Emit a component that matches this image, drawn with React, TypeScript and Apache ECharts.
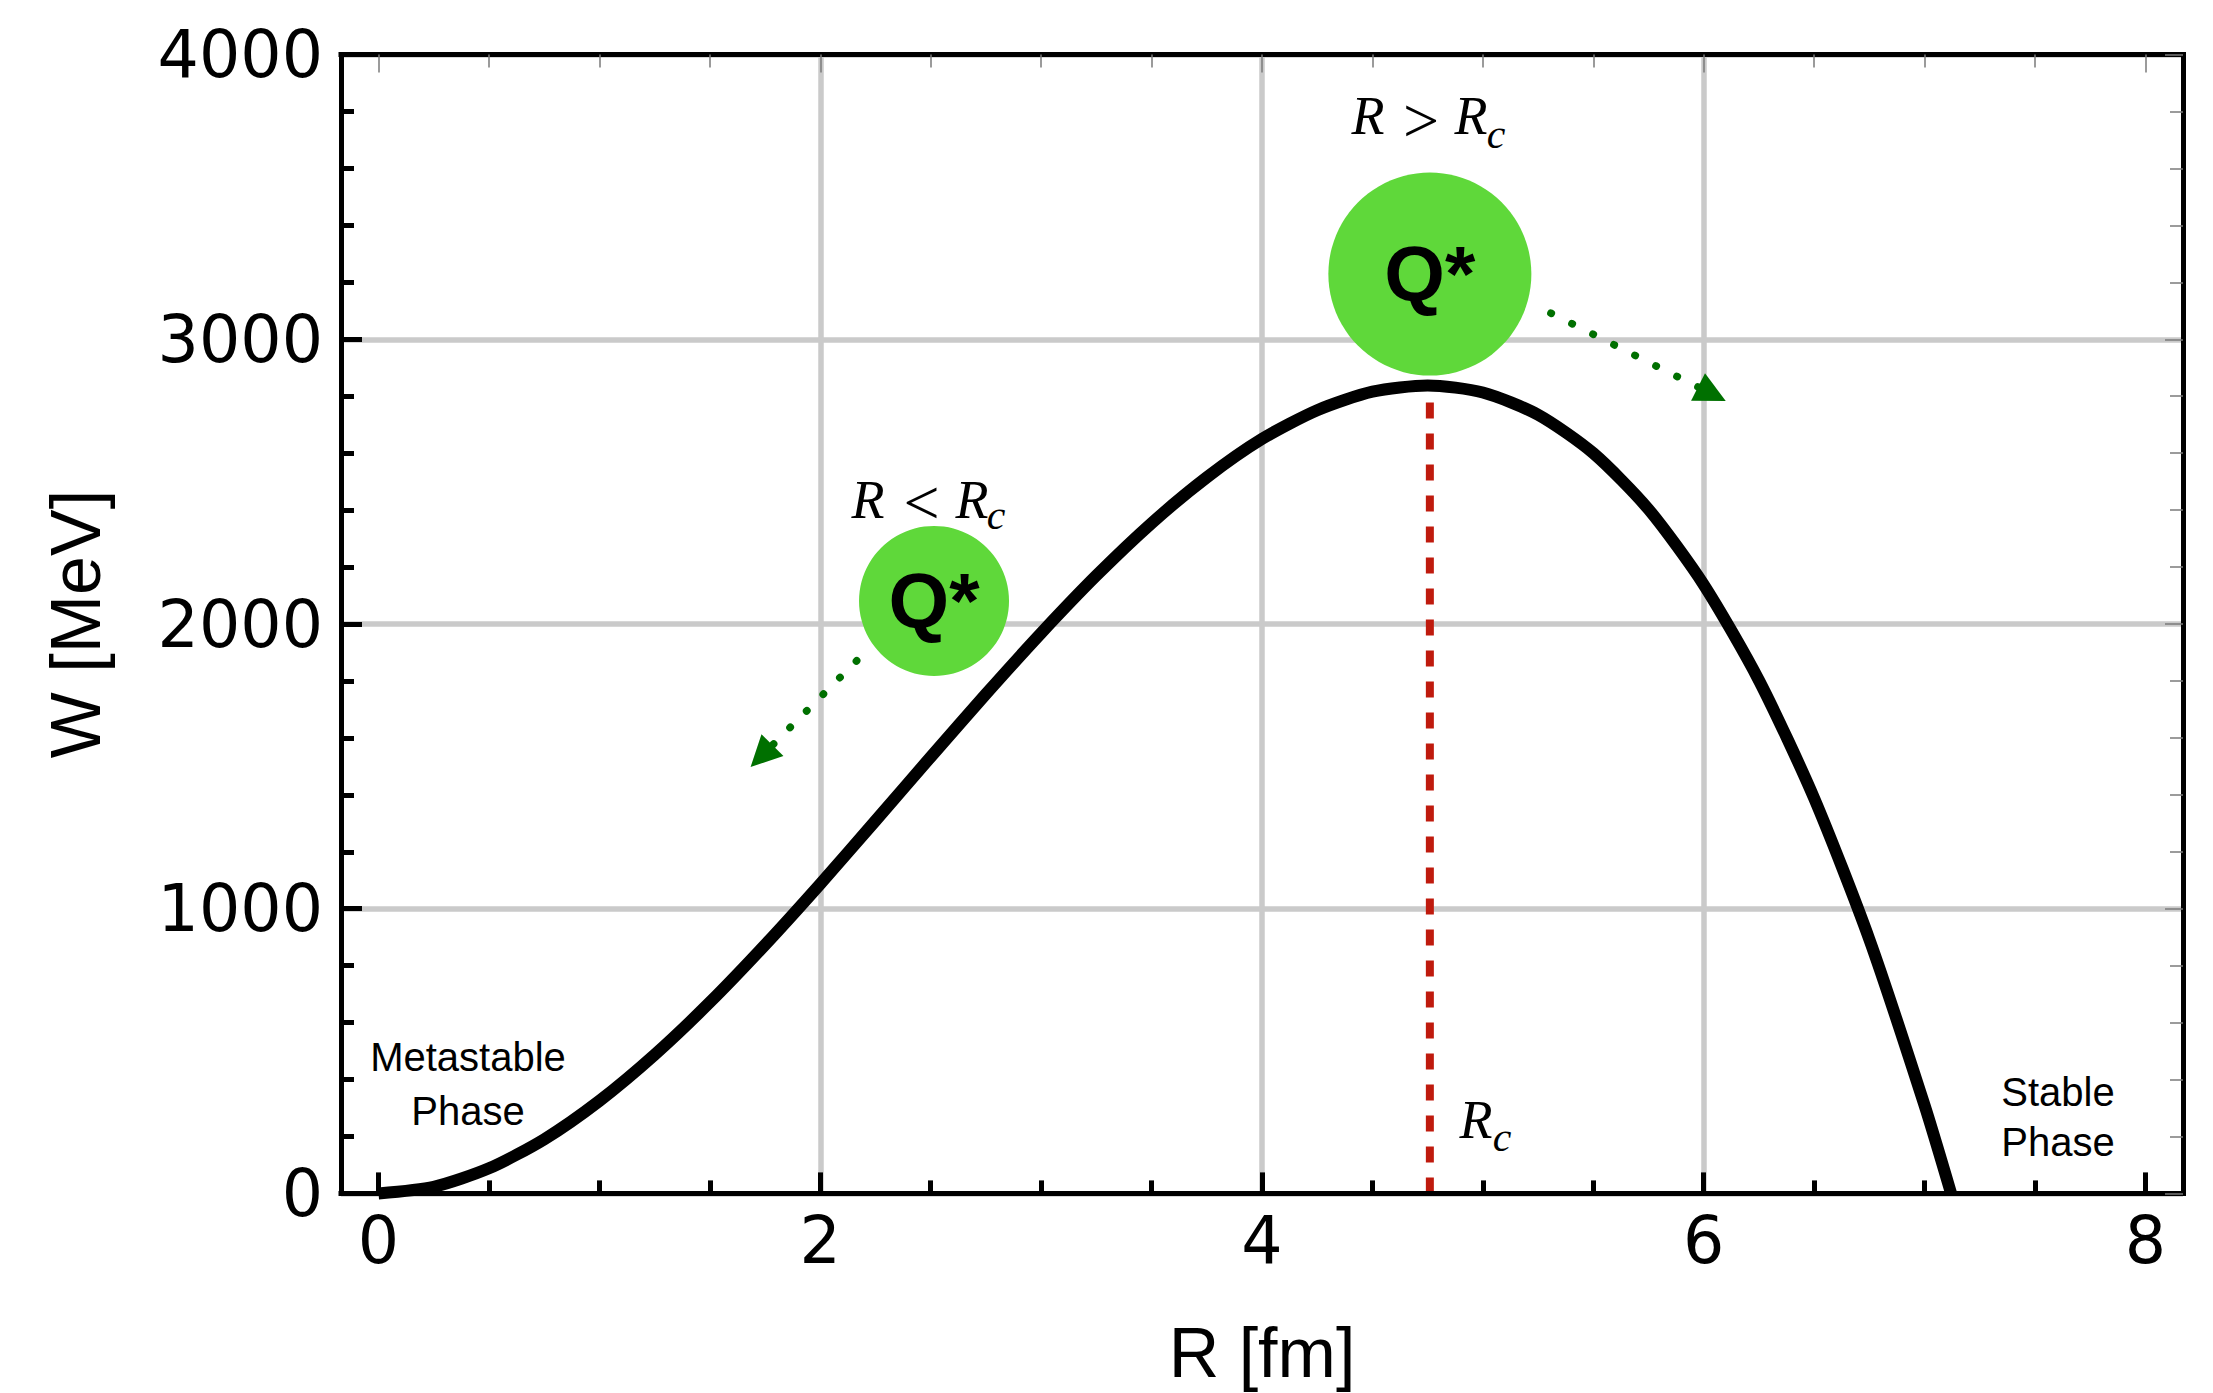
import React, { useEffect, useRef } from "react";
import * as echarts from "echarts";

// ---- data ----
const rValues = [0, 0.25, 0.5, 0.75, 1, 1.25, 1.5, 1.75, 2, 2.25, 2.5, 2.75, 3, 3.25, 3.5, 3.75, 4, 4.25, 4.5, 4.75, 5, 5.25, 5.5, 5.75, 6, 6.25, 6.5, 6.75, 7, 7.12];
const wValues = [0, 23, 88, 190, 325, 487, 671, 873, 1087, 1309, 1533, 1754, 1968, 2170, 2354, 2515, 2650, 2751, 2816, 2838, 2813, 2735, 2600, 2403, 2138, 1802, 1388, 892, 309, 0];

const RC = 4.76;
const RC_TOP = 2790;

const majorX = [0, 2, 4, 6, 8];
const minorX = [0.5, 1, 1.5, 2.5, 3, 3.5, 4.5, 5, 5.5, 6.5, 7, 7.5];
const gridX = [2, 4, 6];
const yTicks = [0, 1000, 2000, 3000, 4000];

const circleCenters = [
  [2.515, 2081],
  [4.76, 3229],
];
const arrowSmall = [
  [2.165, 1871],
  [1.734, 1536],
];
const arrowBig = [
  [5.308, 3092],
  [6.037, 2808],
];

// ---- layout / style constants ----
const X_MIN = -0.17;
const X_MAX = 8.17;
const Y_MIN = yTicks[0];
const Y_MAX = yTicks[yTicks.length - 1];
const CIRCLE_SIZES = [150, 203];
const GREEN = "#5fd83a";
const DARK_GREEN = "#007000";
const RED = "#bf1a0d";
const GRID_GRAY = "#cacaca";
const TICK_GRAY = "#7a7a7a";

const SERIF = "'Liberation Serif', 'Times New Roman', serif";
const SANS = "'Liberation Sans', Arial, sans-serif";
const TICK_FONT = "'DejaVu Sans', sans-serif";

function mathText(text: string, x: number, y: number, size: number, italic = true) {
  return {
    type: "text",
    x,
    y,
    z: 20,
    silent: true,
    style: {
      text,
      fill: "#000",
      fontFamily: SERIF,
      fontStyle: italic ? "italic" : "normal",
      fontSize: size,
      align: "center",
      verticalAlign: "middle",
    },
  };
}

function phaseText(text: string, x: number, y: number, lh: number) {
  return {
    type: "text",
    x,
    y,
    z: 20,
    silent: true,
    style: {
      text,
      fill: "#000",
      fontFamily: SANS,
      fontSize: 40,
      lineHeight: lh,
      align: "center",
      verticalAlign: "middle",
    },
  };
}

function buildOption() {
  const frameLine = { color: "#000", width: 5, cap: "square" };
  return {
    animation: false,
    backgroundColor: "#ffffff",
    textStyle: { fontFamily: SANS },
    grid: {
      left: 341,
      right: 30,
      top: 54.6,
      bottom: 199.6,
      containLabel: false,
      outerBoundsMode: "none",
    },
    xAxis: [
      {
        type: "value",
        position: "bottom",
        min: X_MIN,
        max: X_MAX,
        z: 10,
        axisLine: { show: true, onZero: false, lineStyle: frameLine },
        axisTick: {
          show: true,
          inside: true,
          length: 21,
          customValues: majorX,
          lineStyle: { color: "#000", width: 5 },
        },
        axisLabel: {
          show: true,
          customValues: majorX,
          margin: 15,
          fontSize: 65,
          fontFamily: TICK_FONT,
          color: "#000",
          formatter: (v: number) => String(v),
        },
        splitLine: { show: false },
        name: "R [fm]",
        nameLocation: "middle",
        nameGap: 125,
        nameMoveOverlap: false,
        nameTextStyle: { fontSize: 70, fontFamily: SANS, color: "#000" },
      },
      {
        type: "value",
        position: "bottom",
        min: X_MIN,
        max: X_MAX,
        z: 10,
        axisLine: { show: false, onZero: false },
        axisTick: {
          show: true,
          inside: true,
          length: 13,
          customValues: minorX,
          lineStyle: { color: "#000", width: 5 },
        },
        axisLabel: { show: false },
        splitLine: { show: false },
      },
      {
        type: "value",
        position: "top",
        min: X_MIN,
        max: X_MAX,
        z: 10,
        axisLine: { show: true, onZero: false, lineStyle: frameLine },
        axisTick: {
          show: true,
          inside: true,
          length: 18,
          customValues: majorX,
          lineStyle: { color: TICK_GRAY, width: 1.5 },
        },
        axisLabel: { show: false },
        splitLine: { show: false },
      },
      {
        type: "value",
        position: "top",
        min: X_MIN,
        max: X_MAX,
        z: 10,
        axisLine: { show: false, onZero: false },
        axisTick: {
          show: true,
          inside: true,
          length: 13,
          customValues: minorX,
          lineStyle: { color: TICK_GRAY, width: 1.5 },
        },
        axisLabel: { show: false },
        splitLine: { show: false },
      },
    ],
    yAxis: [
      {
        type: "value",
        position: "left",
        min: Y_MIN,
        max: Y_MAX,
        interval: 1000,
        z: 10,
        axisLine: { show: true, onZero: false, lineStyle: frameLine },
        axisTick: { show: true, inside: true, length: 21, lineStyle: { color: "#000", width: 5 } },
        minorTick: { show: true, splitNumber: 5, length: 13, lineStyle: { color: "#000", width: 5 } },
        axisLabel: {
          show: true,
          margin: 18,
          fontSize: 65,
          fontFamily: TICK_FONT,
          color: "#000",
          padding: [0, 0, 10, 0],
          showMinLabel: true,
          showMaxLabel: true,
          formatter: (v: number) => String(v),
        },
        splitLine: { show: false },
        name: "W [MeV]",
        nameLocation: "middle",
        nameGap: 230,
        nameMoveOverlap: false,
        nameTextStyle: { fontSize: 70, fontFamily: SANS, color: "#000" },
      },
      {
        type: "value",
        position: "right",
        min: Y_MIN,
        max: Y_MAX,
        interval: 1000,
        z: 10,
        axisLine: { show: true, onZero: false, lineStyle: frameLine },
        axisTick: { show: true, inside: true, length: 18, lineStyle: { color: TICK_GRAY, width: 1.5 } },
        minorTick: { show: true, splitNumber: 5, length: 13, lineStyle: { color: TICK_GRAY, width: 1.5 } },
        axisLabel: { show: false },
        splitLine: { show: false },
      },
      {
        type: "value",
        position: "left",
        min: Y_MIN,
        max: Y_MAX,
        interval: 1000,
        z: 0,
        axisLine: { show: false, onZero: false },
        axisTick: { show: false },
        axisLabel: { show: false },
        splitLine: { show: true, lineStyle: { color: GRID_GRAY, width: 5.5 } },
      },
    ],
    series: [
      {
        type: "line",
        name: "W(R)",
        xAxisIndex: 0,
        yAxisIndex: 0,
        data: rValues.map((r, i) => [r, wValues[i]]),
        symbol: "none",
        showSymbol: false,
        smooth: 0.25,
        clip: false,
        z: 3,
        lineStyle: { color: "#000", width: 12, cap: "butt", join: "round" },
        emphasis: { disabled: true },
      },
      {
        type: "line",
        name: "Rc",
        xAxisIndex: 0,
        yAxisIndex: 0,
        data: [
          [RC, Y_MIN],
          [RC, RC_TOP],
        ],
        symbol: "none",
        showSymbol: false,
        z: 3,
        lineStyle: { color: RED, width: 8, type: [16, 15] },
        emphasis: { disabled: true },
        markLine: {
          silent: true,
          z: 1,
          symbol: ["none", "none"],
          label: { show: false },
          emphasis: { disabled: true },
          lineStyle: { color: GRID_GRAY, width: 5.5, type: "solid" },
          data: gridX.map((v) => ({ xAxis: v })),
        },
      },
      {
        type: "scatter",
        name: "Q*",
        xAxisIndex: 0,
        yAxisIndex: 0,
        z: 4,
        symbol: "circle",
        data: circleCenters.map((c, i) => ({ value: c, symbolSize: CIRCLE_SIZES[i] })),
        itemStyle: { color: GREEN, opacity: 1 },
        label: {
          show: true,
          position: "inside",
          formatter: "Q*",
          fontSize: 78,
          fontWeight: "bold",
          fontFamily: SANS,
          color: "#000",
        },
        emphasis: { disabled: true },
      },
      {
        type: "lines",
        name: "arrows",
        coordinateSystem: "cartesian2d",
        xAxisIndex: 0,
        yAxisIndex: 0,
        z: 5,
        symbol: ["none", "triangle"],
        symbolSize: 31,
        lineStyle: { color: DARK_GREEN, width: 7.5, type: [0.5, 23], cap: "round", opacity: 1, curveness: 0 },
        data: [{ coords: arrowSmall }, { coords: arrowBig }],
        emphasis: { disabled: true },
      },
    ],
    graphic: [
      // R > Rc
      mathText("R", 1368, 116, 54),
      mathText(">", 1421, 120, 64, false),
      mathText("R", 1471, 116, 54),
      mathText("c", 1496, 134, 42),
      // R < Rc
      mathText("R", 868, 500, 54),
      mathText("<", 921.5, 502, 64, false),
      mathText("R", 972, 500, 54),
      mathText("c", 996, 515, 42),
      // Rc at axis
      mathText("R", 1476, 1120, 54),
      mathText("c", 1502, 1137, 42),
      phaseText("Metastable\nPhase", 468, 1084, 53.5),
      phaseText("Stable\nPhase", 2058, 1117, 50),
    ],
  };
}

export default function App() {
  const ref = useRef<HTMLDivElement>(null);
  useEffect(() => {
    if (!ref.current) return;
    const chart = echarts.init(ref.current, null, { renderer: "svg" });
    chart.setOption(buildOption() as any);
    return () => chart.dispose();
  }, []);
  return (
    <div
      ref={ref}
      style={{ position: "absolute", left: 0, top: 0, width: 2213, height: 1393, background: "#ffffff" }}
    />
  );
}
